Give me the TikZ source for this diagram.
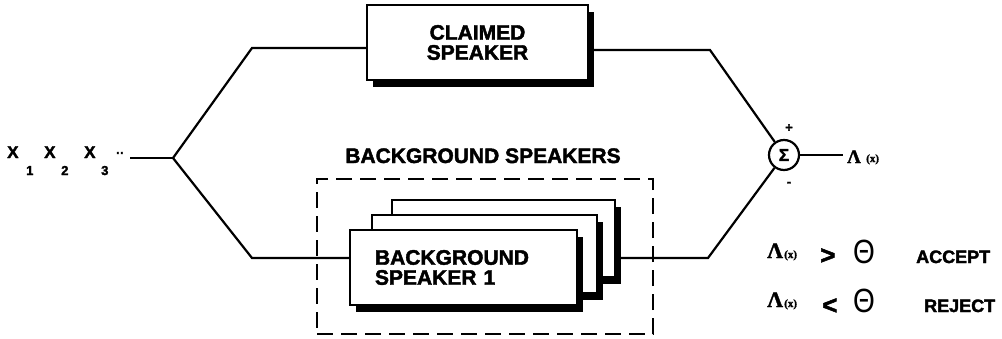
\documentclass[tikz,border=0pt]{standalone}
\usepackage{fontspec}
\usepackage{graphicx}
\setmainfont{Liberation Sans}[BoldFeatures={FakeBold=2}]
\newfontfamily\grk{Liberation Serif}[BoldFeatures={FakeBold=1.5}]
\usetikzlibrary{shadows}
\begin{document}
\begin{tikzpicture}[x=1pt,y=-1pt,
  conn/.style={line width=2.2pt},
  spkbox/.style={draw, line width=2pt, fill=white, inner sep=0pt,
    font=\fontsize{21}{20}\selectfont\bfseries,
    drop shadow={shadow xshift=6pt, shadow yshift=-7pt, fill=black, opacity=1}},
  grp/.style={draw, line width=2pt, dash pattern=on 16pt off 8pt, inner sep=0pt},
  lbl/.style={font=\fontsize{21}{20}\selectfont\bfseries, inner sep=0pt},
  xlab/.style={font=\fontsize{17}{17}\selectfont\bfseries, inner sep=0pt, anchor=base west},
  sublab/.style={font=\fontsize{13}{13}\selectfont\bfseries, inner sep=0pt, anchor=base west},
  lam/.style={font=\grk\bfseries\fontsize{22}{22}\selectfont, inner sep=0pt, anchor=base west},
  lamarg/.style={font=\grk\bfseries\fontsize{11}{11}\selectfont, inner sep=0pt, anchor=base west},
  rel/.style={font=\fontsize{26}{26}\selectfont\bfseries, inner sep=0pt, anchor=base west},
  thet/.style={font=\fontsize{28}{28}\selectfont, inner sep=0pt, anchor=base west},
  dec/.style={font=\fontsize{18}{18}\selectfont\bfseries, inner sep=0pt, anchor=base west},
  sgn/.style={font=\fontsize{13}{13}\selectfont\bfseries, inner sep=0pt}]
\useasboundingbox (0,0) rectangle (1002,338);

% input labels
\node[xlab] (x1) at (7,158) {X};
\node[sublab] (s1) at (26,175) {1};
\node[xlab] (x2) at (44,158) {X};
\node[sublab] (s2) at (61,175) {2};
\node[xlab] (x3) at (84,158) {X};
\node[sublab] (s3) at (101,175) {3};
\node[font=\fontsize{12}{12}\selectfont\bfseries, inner sep=0pt, anchor=base west] (dots) at (116,157) {··};

% group box
\node[grp, minimum width=336pt, minimum height=155pt] (bggrp) at (485,256.5) {};
\node[lbl, anchor=base] (bglabel) at (483,163) {BACKGROUND SPEAKERS};

% coordinates
\coordinate (in) at (130,158);
\coordinate (j) at (173,158);
\coordinate (ul) at (252,48);
\coordinate (ll) at (252,258);
\coordinate (ur) at (710,50);
\coordinate (lr) at (708,258);
\coordinate (out) at (843,155);

% boxes
\node[spkbox, minimum width=221pt, minimum height=75pt, align=center] (claimed) at (477.5,42.5) {CLAIMED\\SPEAKER};
\node[spkbox, minimum width=223pt, minimum height=77pt] (bk3) at (503.5,238.5) {};
\node[spkbox, minimum width=225pt, minimum height=78pt] (bk2) at (484.5,254) {};
\node[spkbox, minimum height=75pt, text width=177pt, inner xsep=25pt, align=left] (bk1) at (463.5,267.5) {BACKGROUND\\SPEAKER 1};

% sum
\node[draw, circle, line width=2.2pt, minimum size=30pt, inner sep=0pt, fill=white,
  font=\fontsize{17}{17}\selectfont\bfseries] (sum) at (784,155) {Σ};
\node[sgn] (plus) at (789,128) {+};
\node[sgn] (minus) at (789,184) {-};

% connectors
\draw[conn] (in) -- (j);
\draw[conn] (j) -- (ul) -- (ul -| claimed.west);
\draw[conn] (j) -- (ll) -- (ll -| bk1.west);
\draw[conn] (ur -| claimed.east) -- (ur) -- (sum);
\draw[conn] (lr -| bk3.east) -- (lr) -- (sum);
\draw[conn] (sum) -- (out);

% output label
\node[font=\grk\bfseries\fontsize{19}{19}\selectfont, inner sep=0pt, anchor=base west] (lamout) at (847,163) {Λ};
\node[lamarg] (argout) at (866,162) {(x)};

% decision rules
\node[lam] (lam1) at (767,258) {Λ};
\node[lamarg] (arg1) at (784,258) {(x)};
\node[rel] (gt) at (820,264) {>};
\node[thet] (th1) at (853,263) {\scalebox{1}[1.2]{Θ}};
\node[dec] (acc) at (916,263) {ACCEPT};

\node[lam] (lam2) at (767,307) {Λ};
\node[lamarg] (arg2) at (784,307) {(x)};
\node[rel] (lt) at (822,314) {<};
\node[thet] (th2) at (853,312) {\scalebox{1}[1.2]{Θ}};
\node[dec] (rej) at (924,312) {REJECT};
\end{tikzpicture}
\end{document}
